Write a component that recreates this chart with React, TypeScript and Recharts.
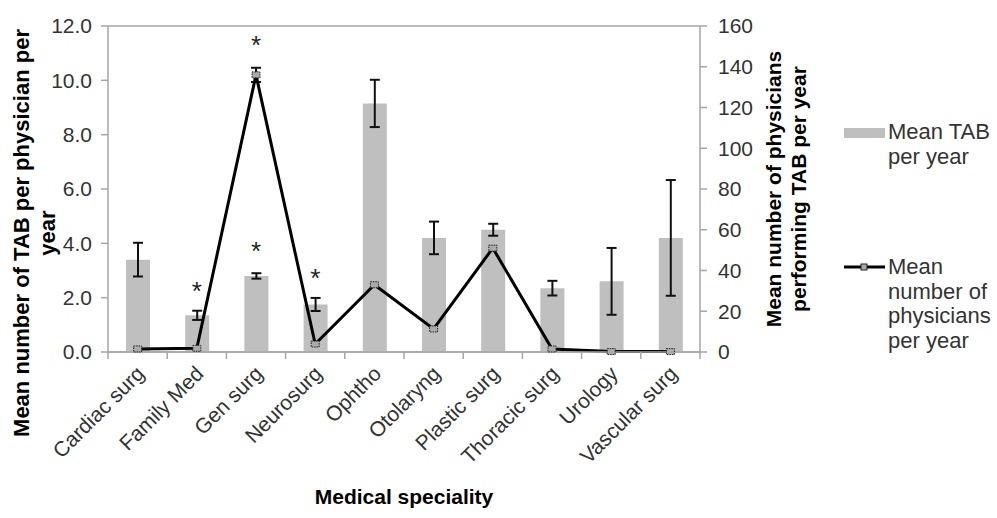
import { ComposedChart, Bar, Line, XAxis, YAxis, CartesianGrid, ErrorBar, Legend } from 'recharts';

const categories = ['Cardiac surg', 'Family Med', 'Gen surg', 'Neurosurg', 'Ophtho', 'Otolaryng', 'Plastic surg', 'Thoracic surg', 'Urology', 'Vascular surg'];
const meanTab = [3.4, 1.35, 2.8, 1.75, 9.15, 4.2, 4.5, 2.35, 2.6, 4.2];
const meanTabErr = [0.62, 0.17, 0.1, 0.24, 0.87, 0.6, 0.22, 0.27, 1.23, 2.13];
const physicians = [1.5, 1.8, 136, 3.9, 33, 11.3, 51, 1.5, 0.2, 0.2];
const physiciansErr = [0, 0, 3.5, 0, 0, 0, 0, 0, 0, 0];
// significance stars, in left-axis units
const starLow = [null, 2.47, 3.94, 2.94, null, null, null, null, null, null];
const starHigh = [null, null, 11.52, null, null, null, null, null, null, null];
const leftTicks = [0, 2, 4, 6, 8, 10, 12];
const rightTicks = [0, 20, 40, 60, 80, 100, 120, 140, 160];

const data = categories.map((name, i) => ({
  name,
  tab: meanTab[i],
  tabErr: meanTabErr[i],
  phys: physicians[i],
  physErr: physiciansErr[i],
  starLow: starLow[i],
  starHigh: starHigh[i],
}));

const FONT = 'Arial, "Liberation Sans", sans-serif';
const GRID = '#a6a6a6';
const TEXT = '#333';
const BAND = 59.2;

const XTick = (props: any) => {
  const { x, y, payload, index } = props;
  const axisY = y - 7;
  return (
    <g>
      <line x1={x - BAND / 2} x2={x - BAND / 2} y1={axisY} y2={axisY + 7} stroke={GRID} strokeWidth={1.5} />
      {index === categories.length - 1 && (
        <line x1={x + BAND / 2} x2={x + BAND / 2} y1={axisY} y2={axisY + 7} stroke={GRID} strokeWidth={1.5} />
      )}
      <text
        x={x + 8}
        y={axisY + 23}
        transform={`rotate(-45, ${x + 8}, ${axisY + 23})`}
        textAnchor="end"
        fontSize={21}
        fill={TEXT}
        fontFamily={FONT}
      >
        {payload.value}
      </text>
    </g>
  );
};

const Star = (props: any) => {
  const { cx, cy, value } = props;
  if (value == null || cy == null || isNaN(cy)) return <g key={props.key} />;
  return (
    <text key={props.key} x={cx} y={cy + 15} textAnchor="middle" fontSize={26} fontFamily={FONT} fill="#222">
      *
    </text>
  );
};

const Marker = (props: any) => {
  const { cx, cy } = props;
  return (
    <rect key={props.key} x={cx - 4} y={cy - 3} width={8} height={6} fill="#aaa" stroke="#222" strokeWidth={1} strokeDasharray="1.5 1" />
  );
};

const LeftTitle = (props: any) => {
  const vb = props.viewBox;
  const cy = vb.y + vb.height / 2 + 44;
  return (
    <g fontFamily={FONT} fontWeight="bold" fontSize={22} fill="#000" textAnchor="middle">
      <text x={29} y={cy} transform={`rotate(-90, 29, ${cy})`}>Mean number of TAB per physician per</text>
      <text x={55} y={cy} transform={`rotate(-90, 55, ${cy})`}>year</text>
    </g>
  );
};

const RightTitle = (props: any) => {
  const vb = props.viewBox;
  const cy = vb.y + vb.height / 2;
  return (
    <g fontFamily={FONT} fontWeight="bold" fontSize={21} fill="#000" textAnchor="middle">
      <text x={781} y={cy} transform={`rotate(-90, 781, ${cy})`}>Mean number of physicians</text>
      <text x={806} y={cy} transform={`rotate(-90, 806, ${cy})`}>performing TAB per year</text>
    </g>
  );
};

const BottomTitle = (props: any) => {
  const vb = props.viewBox;
  const cx = vb.x + vb.width / 2;
  return (
    <text x={cx} y={504} textAnchor="middle" fontFamily={FONT} fontWeight="bold" fontSize={21} fill="#000">
      Medical speciality
    </text>
  );
};

const LegendBox = () => {
  const txt = { fontFamily: FONT, fontSize: 22, color: TEXT, lineHeight: '24.5px' };
  return (
    <div style={{ position: 'relative', width: 160, height: 240 }}>
      <div style={{ position: 'absolute', left: 4, top: 10, width: 41, height: 10, background: '#bfbfbf' }} />
      <div style={{ position: 'absolute', left: 48, top: 2, ...txt }}>
        Mean TAB
        <br />
        per year
      </div>
      <svg style={{ position: 'absolute', left: 0, top: 142 }} width={48} height={14}>
        <line x1={4} x2={45} y1={7} y2={7} stroke="#000" strokeWidth={3} />
        <rect x={21} y={4} width={6} height={6} fill="#aaa" stroke="#222" strokeWidth={1} />
      </svg>
      <div style={{ position: 'absolute', left: 48, top: 137, ...txt }}>
        Mean
        <br />
        number of
        <br />
        physicians
        <br />
        per year
      </div>
    </div>
  );
};

export default function App() {
  return (
    <div style={{ position: 'absolute', left: 0, top: 0, width: 997, height: 518, background: '#fff' }}>
      <ComposedChart width={997} height={518} data={data} margin={{ top: 26, right: 0, bottom: 0, left: 0 }}>
        <CartesianGrid vertical={false} stroke={GRID} strokeWidth={1.5} />
        <XAxis
          dataKey="name"
          height={166}
          interval={0}
          tickLine={false}
          tickSize={7}
          tickMargin={0}
          axisLine={{ stroke: GRID, strokeWidth: 1.5 }}
          tick={<XTick />}
          label={<BottomTitle />}
        />
        <YAxis
          yAxisId="left"
          width={108}
          domain={[0, 12]}
          ticks={leftTicks}
          tickFormatter={(v: number) => v.toFixed(1)}
          tickSize={7}
          tickMargin={9}
          tick={{ fill: TEXT, fontSize: 21, fontFamily: FONT }}
          tickLine={{ stroke: GRID, strokeWidth: 1.5 }}
          axisLine={{ stroke: GRID, strokeWidth: 1.5 }}
          label={<LeftTitle />}
        />
        <YAxis
          yAxisId="right"
          orientation="right"
          width={297}
          domain={[0, 160]}
          ticks={rightTicks}
          tickSize={7}
          tickMargin={11}
          tick={{ fill: TEXT, fontSize: 21, fontFamily: FONT }}
          tickLine={{ stroke: GRID, strokeWidth: 1.5 }}
          axisLine={{ stroke: GRID, strokeWidth: 1.5 }}
          label={<RightTitle />}
        />
        <Legend
          layout="horizontal"
          verticalAlign="middle"
          align="center"
          content={<LegendBox />}
          wrapperStyle={{ left: 840, top: 118, width: 160, height: 240 }}
        />
        <Bar yAxisId="left" dataKey="tab" name="Mean TAB per year" fill="#bfbfbf" barSize={24} isAnimationActive={false}>
          <ErrorBar dataKey="tabErr" width={5} stroke="#111" strokeWidth={2} direction="y" />
        </Bar>
        <Line
          yAxisId="right"
          dataKey="phys"
          name="Mean number of physicians per year"
          stroke="#000"
          strokeWidth={3}
          dot={<Marker />}
          activeDot={false}
          isAnimationActive={false}
        >
          <ErrorBar dataKey="physErr" width={5} stroke="#111" strokeWidth={2} direction="y" />
        </Line>
        <Line yAxisId="left" dataKey="starLow" stroke="none" dot={<Star />} activeDot={false} legendType="none" isAnimationActive={false} />
        <Line yAxisId="left" dataKey="starHigh" stroke="none" dot={<Star />} activeDot={false} legendType="none" isAnimationActive={false} />
      </ComposedChart>
    </div>
  );
}
